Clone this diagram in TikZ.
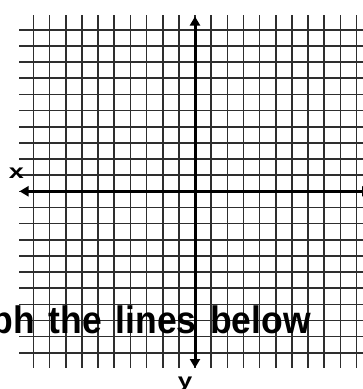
\documentclass[tikz,border=0pt]{standalone}
\usepackage{fontspec}
\setmainfont{Liberation Sans}
\usetikzlibrary{arrows.meta}
\definecolor{gridgray}{HTML}{2E2E2E}
\def\wsp{\hspace{13.6pt}}
\begin{document}
\begin{tikzpicture}[x=1pt,y=-1pt,
  gridline/.style={draw=gridgray,line width=1.6pt},
  axisline/.style={draw=black,line width=3pt,{Triangle[width=10pt,length=9pt]}-{Triangle[width=10pt,length=9pt]}},
  axislabel/.style={font=\bfseries\fontsize{20}{24}\selectfont,inner sep=0pt},
  heading/.style={font=\bfseries\fontsize{35.5}{40}\selectfont,inner sep=0pt}]
\useasboundingbox (0,0) rectangle (363,389);
\def\cs{16.15}
% grid
\foreach \k in {-10,...,10}{
  \draw[gridline] (19,191.3+\k*\cs) -- (372,191.3+\k*\cs);
  \draw[gridline] (195+\k*\cs,15) -- (195+\k*\cs,368);
}
% axes
\coordinate (xl) at (19.5,191.3);
\coordinate (xr) at (371,191.3);
\coordinate (yt) at (195,16.5);
\coordinate (yb) at (195,368);
\draw[axisline] (xl) -- (xr);
\draw[axisline] (yb) -- (yt);
% labels
\node[axislabel,anchor=base] (lx) at (16.5,178.5) {\scalebox{1.35}[1]{x}};
\node[axislabel,anchor=base] (ly) at (185,387) {\scalebox{1.3}[1]{y}};
\node[heading,anchor=base east] (title) at (311,333) {\scalebox{1}[1.08]{ph\wsp the\wsp lines\wsp below}};
\end{tikzpicture}
\end{document}
